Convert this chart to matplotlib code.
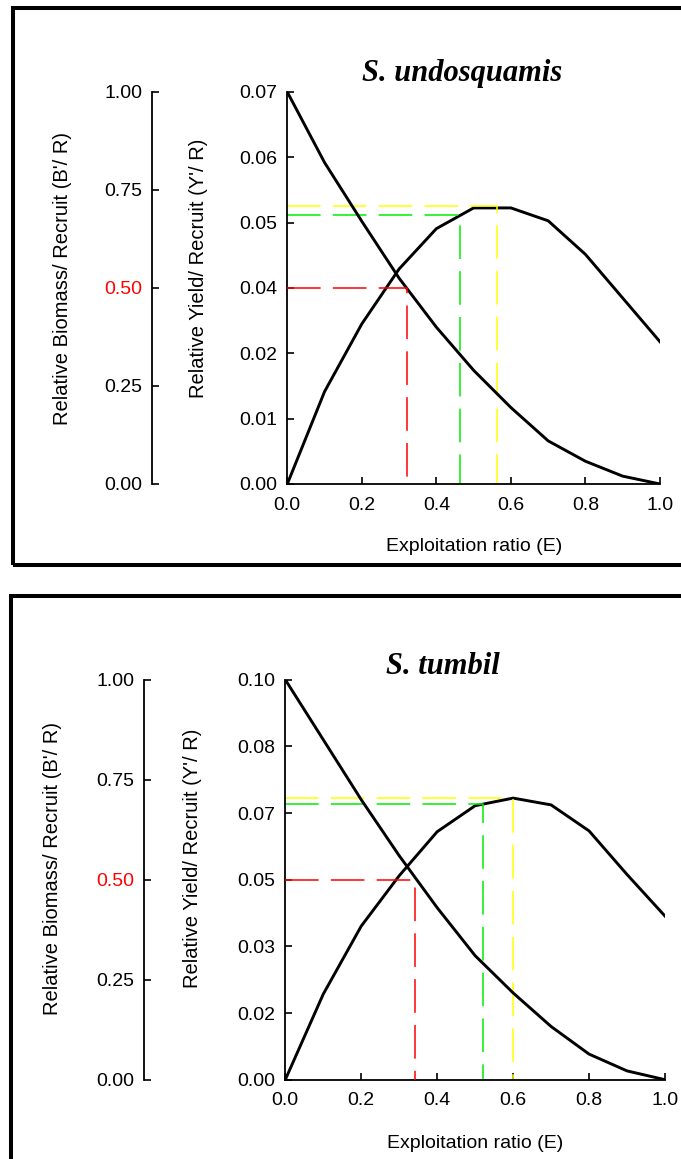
import matplotlib
matplotlib.use('Agg')
import matplotlib.pyplot as plt
from matplotlib.patches import Rectangle

plt.rcParams['font.family'] = ['Liberation Sans', 'DejaVu Sans']

# exploitation ratio values
E = [0.0, 0.1, 0.2, 0.3, 0.4, 0.5, 0.6, 0.7, 0.8, 0.9, 1.0]

# S. undosquamis
und_yield = [0.0, 0.0165, 0.0286, 0.0384, 0.0456, 0.0493, 0.0493, 0.0470, 0.0410, 0.0332, 0.0254]
und_biomass = [1.0, 0.82, 0.67, 0.525, 0.40, 0.29, 0.195, 0.11, 0.058, 0.02, 0.0]
und_yticks = [0.0, 0.01167, 0.02333, 0.035, 0.04667, 0.05833, 0.07]
und_ylabels = ['0.00', '0.01', '0.02', '0.04', '0.05', '0.06', '0.07']
und_e50, und_e10, und_emax = 0.32, 0.463, 0.562
und_y10, und_ymax = 0.0480, 0.0496

# S. tumbil
tum_yield = [0.0, 0.0214, 0.0384, 0.0510, 0.0620, 0.0685, 0.0704, 0.0687, 0.0622, 0.0513, 0.0409]
tum_biomass = [1.0, 0.85, 0.70, 0.56, 0.43, 0.31, 0.217, 0.133, 0.064, 0.022, 0.0]
tum_yticks = [0.0, 0.01667, 0.03333, 0.05, 0.06667, 0.08333, 0.1]
tum_ylabels = ['0.00', '0.02', '0.03', '0.05', '0.07', '0.08', '0.10']
tum_e50, tum_e10, tum_emax = 0.341, 0.52, 0.60
tum_y10, tum_ymax = 0.0689, 0.0704

bio_ticks = [0.0, 0.25, 0.5, 0.75, 1.0]
bio_labels = ['0.00', '0.25', '0.50', '0.75', '1.00']
x_ticks = [0.0, 0.2, 0.4, 0.6, 0.8, 1.0]
x_labels = ['0.0', '0.2', '0.4', '0.6', '0.8', '1.0']

fig = plt.figure(figsize=(6.81, 11.59), dpi=100)
W, H = 681.0, 1159.0


def panel(px, yld, bio, yticks, ylabels, e50, e10, emax, y10, ymax, title, tpos, spine_off, bl_pos, yl_pos):
    left, top, right, bottom = px
    ax = fig.add_axes([left/W, 1-bottom/H, (right-left)/W, (bottom-top)/H])
    ax2 = ax.twinx()
    top_y = yticks[-1]

    # curves
    ax.plot(E, yld, color='black', lw=2.1)
    ax2.plot(E, bio, color='black', lw=2.1)

    # reference lines (E0.5, E0.1, Emax)
    ax2.plot([0, e50, e50], [0.5, 0.5, 0], color='#ff0000', lw=1.1, dashes=(22, 8))
    ax.plot([0, e10, e10], [y10, y10, 0], color='#00ee00', lw=1.1, dashes=(22, 8))
    ax.plot([0, emax, emax], [ymax, ymax, 0], color='#ffff00', lw=1.1, dashes=(22, 8))

    ax.set_xlim(0, 1)
    ax.set_ylim(0, top_y)
    ax2.set_ylim(0, 1)

    for a in (ax, ax2):
        a.spines['top'].set_visible(False)
        a.spines['right'].set_visible(False)
    ax2.spines['bottom'].set_visible(False)
    ax2.spines['left'].set_position(('outward', spine_off))
    ax2.yaxis.set_ticks_position('left')
    ax2.yaxis.set_label_position('left')

    ax.set_xticks(x_ticks)
    ax.set_xticklabels(x_labels)
    ax.set_yticks(yticks)
    ax.set_yticklabels(ylabels)
    ax2.set_yticks(bio_ticks)
    ax2.set_yticklabels(bio_labels)

    ax.tick_params(axis='both', direction='in', length=5, width=1.2, labelsize=14, pad=7)
    ax.tick_params(axis='x', pad=9)
    ax2.tick_params(axis='y', direction='in', length=5, width=1.2, labelsize=14, pad=7)
    for a in (ax, ax2):
        for s in a.spines.values():
            s.set_linewidth(1.3)

    # the 0.50 biomass tick in red
    t = ax2.yaxis.get_major_ticks()[2]
    t.label1.set_color('red')
    t.tick1line.set_color('red')

    ax.set_xlabel('Exploitation ratio (E)', fontsize=14)
    ax.xaxis.set_label_coords(0.5, -0.138)
    ax.set_ylabel("Relative Yield/ Recruit (Y'/ R)", fontsize=14.5, va='center')
    ax.yaxis.set_label_coords(*yl_pos)
    ax2.set_ylabel("Relative Biomass/ Recruit (B'/ R)", fontsize=14.5, va='center')
    ax2.yaxis.set_label_coords(*bl_pos)

    ax.text(tpos[0], tpos[1], title, transform=ax.transAxes, ha='center', va='center',
            fontsize=22, fontweight='bold', fontstyle='italic', family='Liberation Serif')
    return ax


panel((287.3, 92, 660, 484), und_yield, und_biomass, und_yticks, und_ylabels,
      und_e50, und_e10, und_emax, und_y10, und_ymax, 'S. undosquamis', (0.469, 1.048),
      97.4, (-0.6045, 0.523), (-0.2396, 0.551))
panel((285.3, 679.7, 665, 1079.7), tum_yield, tum_biomass, tum_yticks, tum_ylabels,
      tum_e50, tum_e10, tum_emax, tum_y10, tum_ymax, 'S. tumbil', (0.415, 1.034),
      101.7, (-0.612, 0.527), (-0.2457, 0.554))

# frames around each panel
fig.patches.append(Rectangle((13/W, 1-564.7/H), 690/W, (564.7-8)/H, transform=fig.transFigure,
                             fill=False, ec='black', lw=2.9))
fig.patches.append(Rectangle((10.5/W, 1-1175/H), 690/W, (1175-596)/H, transform=fig.transFigure,
                             fill=False, ec='black', lw=2.9))

fig.savefig('out.png', dpi=100)
